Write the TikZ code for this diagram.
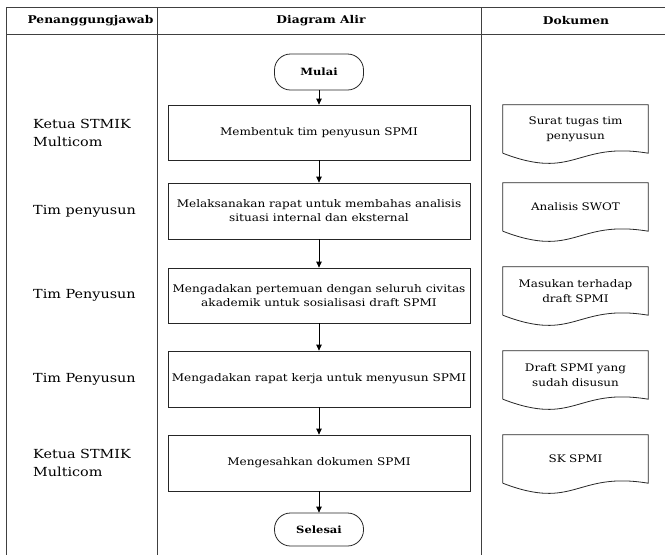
\documentclass[tikz,border=0pt]{standalone}
\usepackage{fontspec}
\setmainfont{DejaVu Serif}[FakeStretch=1.15]
\usetikzlibrary{arrows.meta}
\begin{document}
\begin{tikzpicture}[x=1pt,y=-1pt,
  grid/.style={draw=black!75,line width=0.9pt},
  hdr/.style={font=\bfseries\fontsize{10.7}{12}\selectfont,inner sep=0pt},
  term/.style={draw=black!85,line width=0.8pt,rounded corners=16pt,minimum width=89pt,inner sep=0pt,font=\bfseries\fontsize{10}{12}\selectfont},
  proc/.style={draw=black!85,line width=0.8pt,minimum width=302pt,align=center,inner sep=0pt,font=\fontsize{10.5}{14}\selectfont},
  docbox/.style={minimum width=145pt,minimum height=48pt,text width=143pt,align=center,inner sep=0pt,font=\fontsize{10.4}{15}\selectfont},
  docline/.style={draw=black!85,line width=0.8pt},
  who/.style={anchor=west,align=left,inner sep=0pt,font=\fontsize{12.5}{18}\selectfont},
  arr/.style={draw=black,line width=0.8pt,-{Triangle[length=6pt,width=5.5pt]}}
]
\useasboundingbox (0,0) rectangle (665,555);
% table
\draw[grid] (6,7) -- (665,7);
\draw[grid] (6,34) -- (665,34);
\draw[grid] (6,7) -- (6,555);
\draw[grid] (157,7) -- (157,555);
\draw[grid] (481,7) -- (481,555);
\node[hdr] (h1) at (90.5,21) {Penanggungjawab};
\node[hdr] (h2) at (321,21) {Diagram Alir};
\node[hdr] (h3) at (576,21) {Dokumen};
% flow
\node[term,minimum height=36pt] (mulai) at (319,72) {Mulai};
\node[proc,minimum height=55pt] (b1) at (319,132.5) {Membentuk tim penyusun SPMI};
\node[proc,minimum height=56pt] (b2) at (319,211) {Melaksanakan rapat untuk membahas analisis\\situasi internal dan eksternal};
\node[proc,minimum height=55pt] (b3) at (319,295.5) {Mengadakan pertemuan dengan seluruh civitas\\akademik untuk sosialisasi draft SPMI};
\node[proc,minimum height=56pt] (b4) at (319,379) {Mengadakan rapat kerja untuk menyusun SPMI};
\node[proc,minimum height=56pt] (b5) at (319,463) {Mengesahkan dokumen SPMI};
\node[term,minimum height=33pt] (selesai) at (319,529.5) {Selesai};
\draw[arr] (mulai) -- (b1);
\draw[arr] (b1) -- (b2);
\draw[arr] (b2) -- (b3);
\draw[arr] (b3) -- (b4);
\draw[arr] (b4) -- (b5);
\draw[arr] (b5) -- (selesai);
% documents
\node[docbox] (d1) at (575.5,129) {Surat tugas tim\\penyusun};
\node[docbox] (d2) at (575.5,207) {Analisis SWOT};
\node[docbox] (d3) at (575.5,291) {Masukan terhadap\\draft SPMI};
\node[docbox] (d4) at (575.5,375) {Draft SPMI yang\\sudah disusun};
\node[docbox] (d5) at (575.5,459) {SK SPMI};
\foreach \d in {d1,d2,d3,d4,d5}{
  \draw[docline] (\d.south west) -- (\d.north west) -- (\d.north east) -- (\d.south east)
    .. controls +(-72.5,-12) and +(72.5,28) .. (\d.south west);
}
% responsible
\node[who] (w1) at (33,133) {Ketua STMIK\\Multicom};
\node[who] (w2) at (33,211) {Tim penyusun};
\node[who] (w3) at (33,295.5) {Tim Penyusun};
\node[who] (w4) at (33,379) {Tim Penyusun};
\node[who] (w5) at (33,463) {Ketua STMIK\\Multicom};
\end{tikzpicture}
\end{document}
